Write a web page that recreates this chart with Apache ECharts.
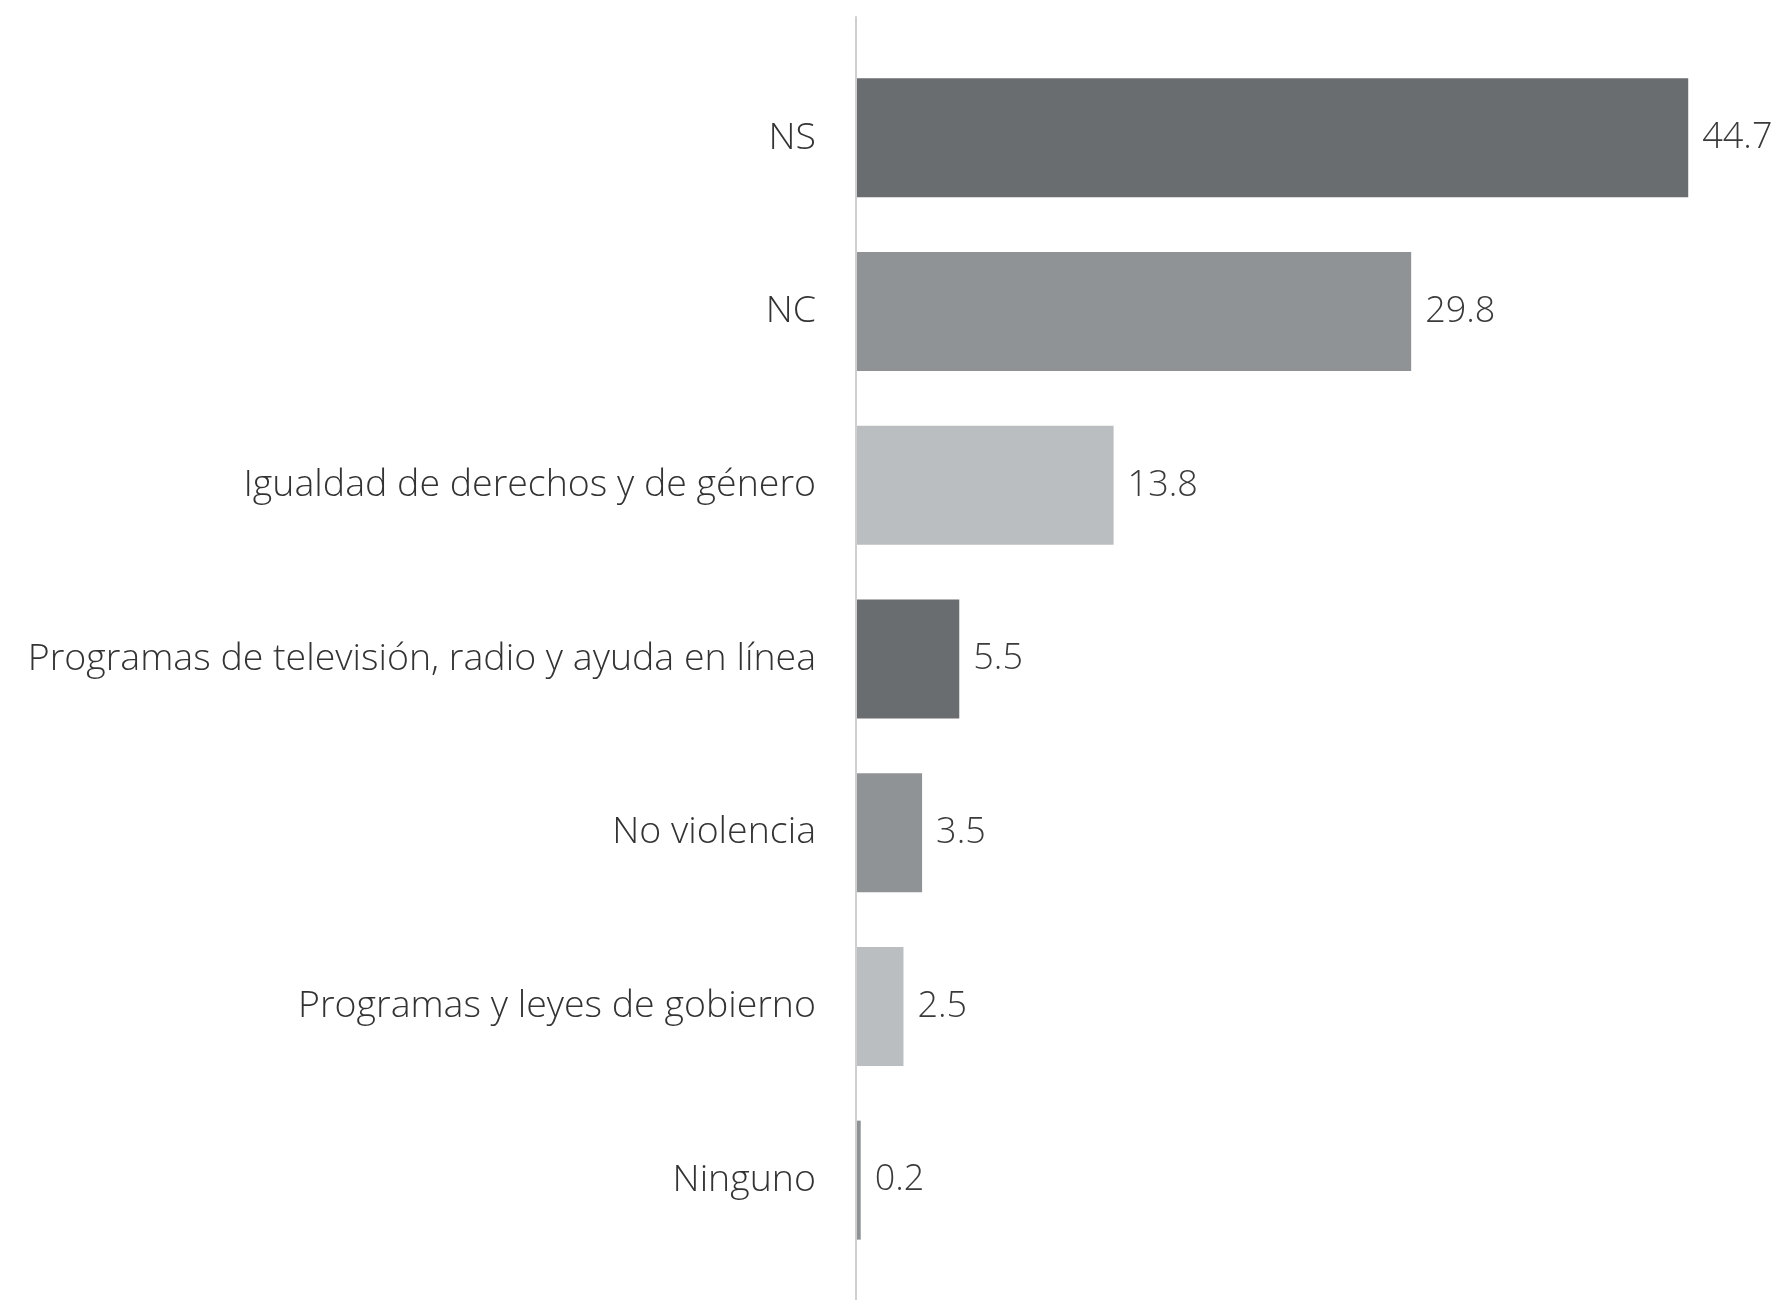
<!DOCTYPE html>
<html>
<head>
<meta charset="utf-8">
<script src="https://cdn.jsdelivr.net/npm/echarts@6/dist/echarts.min.js"></script>
<style>html,body{margin:0;padding:0;background:#fff;}#c{width:1773px;height:1300px;}</style>
</head>
<body>
<div id="c"></div>
<script>
var categories = ["NS", "NC", "Igualdad de derechos y de género", "Programas de televisión, radio y ayuda en línea", "No violencia", "Programas y leyes de gobierno", "Ninguno"];
var values = [44.7, 29.8, 13.8, 5.5, 3.5, 2.5, 0.2];
var barColors = ["#6a6d6f", "#909395", "#bbbec0", "#6a6d6f", "#909395", "#bbbec0", "#8f9294"];

var chart = echarts.init(document.getElementById('c'));
chart.setOption({
  backgroundColor: '#ffffff',
  animation: false,
  grid: [
    { left: 857, right: 42, top: 51, bottom: 33 },
    { left: 856, right: 42, top: 17, bottom: 0 }
  ],
  xAxis: [
    { gridIndex: 0, type: 'value', min: 0, max: 47, show: false },
    { gridIndex: 1, type: 'value', min: 0, max: 47, show: false }
  ],
  yAxis: [
    {
      gridIndex: 0, type: 'category', data: categories, inverse: true,
      axisLine: { show: false }, axisTick: { show: false },
      axisLabel: { margin: 41, fontFamily: 'Open Sans', fontWeight: 300, fontSize: 37.5, color: '#333333' }
    },
    {
      gridIndex: 1, type: 'value', min: 0, max: 1,
      axisLine: { show: true, onZero: false, lineStyle: { color: '#cfcfcf', width: 2 } },
      axisTick: { show: false }, axisLabel: { show: false }, splitLine: { show: false }
    }
  ],
  series: [{
    type: 'bar',
    xAxisIndex: 0, yAxisIndex: 0,
    barWidth: 119,
    data: values.map(function (v, i) { return { value: v, itemStyle: { color: barColors[i] } }; }),
    label: {
      show: true, position: 'right', distance: 14,
      fontFamily: 'Open Sans', fontWeight: 300, fontSize: 36, color: '#3a3a3a',
      formatter: function (p) { return p.value.toFixed(1); }
    }
  }]
});
</script>
</body>
</html>
